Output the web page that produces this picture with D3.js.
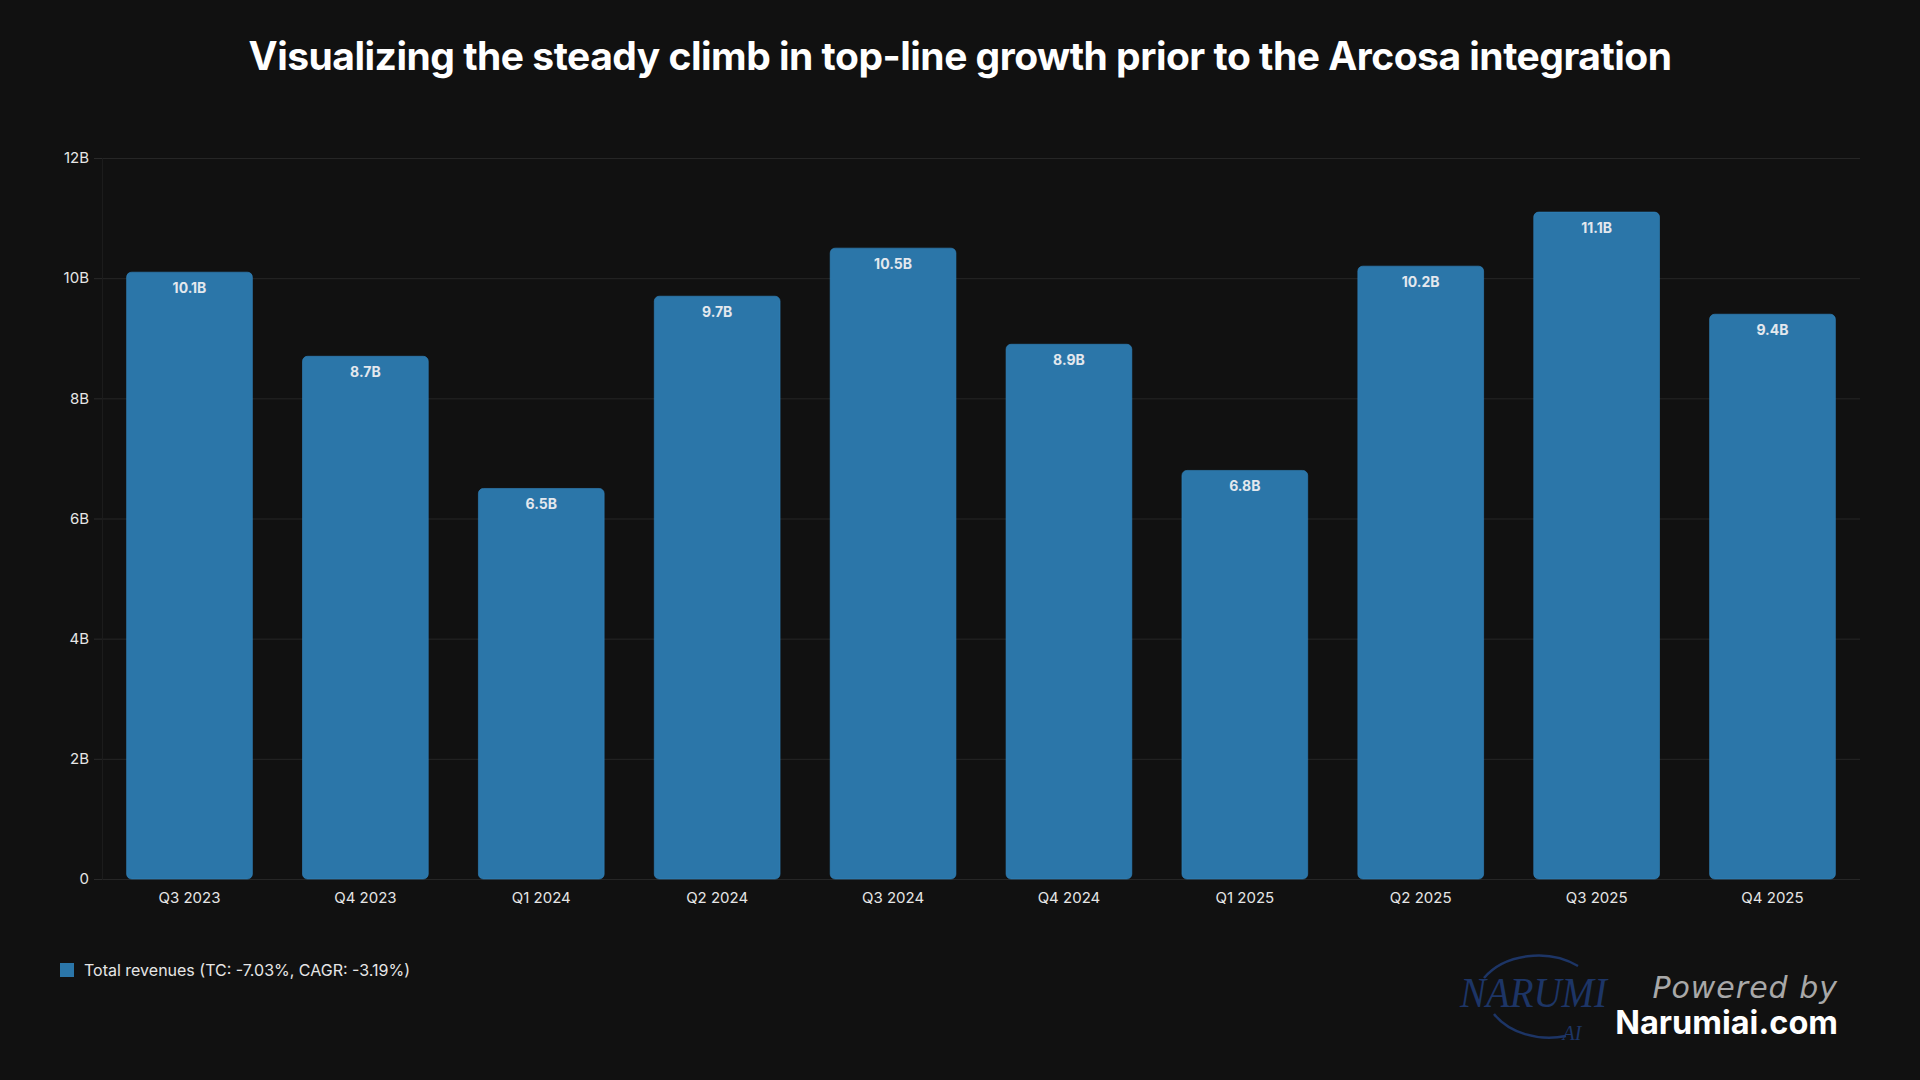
<!DOCTYPE html>
<html>
<head>
<meta charset="utf-8">
<script src="https://cdn.jsdelivr.net/npm/d3@7"></script>
<style>
  html, body { margin: 0; padding: 0; background: #111111; }
  svg { display: block; font-family: Inter, "Noto Sans", sans-serif; }
</style>
</head>
<body>
<svg id="chart" width="1920" height="1080"></svg>
<script>
// chart data
var quarters = ["Q3 2023", "Q4 2023", "Q1 2024", "Q2 2024", "Q3 2024", "Q4 2024", "Q1 2025", "Q2 2025", "Q3 2025", "Q4 2025"];
var revenues = [10.1, 8.7, 6.5, 9.7, 10.5, 8.9, 6.8, 10.2, 11.1, 9.4];
var yTicks = [0, 2, 4, 6, 8, 10, 12];
var titleText = "Visualizing the steady climb in top-line growth prior to the Arcosa integration";
var legendText = "Total revenues (TC: -7.03%, CAGR: -3.19%)";

(function() {
  var svg = d3.select("#chart");
  var margin = {top: 158, right: 60, bottom: 201, left: 102};
  var width = 1920, height = 1080;
  var barColor = "#2b76a9";

  var x = d3.scaleBand()
    .domain(quarters)
    .range([margin.left, width - margin.right])
    .paddingInner(0.285)
    .paddingOuter(0.14);

  var y = d3.scaleLinear()
    .domain([0, 12])
    .range([height - margin.bottom, margin.top]);

  // title
  svg.append("text")
    .attr("x", width / 2)
    .attr("y", 70)
    .attr("text-anchor", "middle")
    .attr("fill", "#ffffff")
    .style("font-size", "39px")
    .style("font-weight", 700)
    .style("letter-spacing", "-0.5px")
    .text(titleText);

  // grid lines
  svg.append("g")
    .selectAll("line")
    .data(yTicks)
    .enter().append("line")
      .attr("x1", margin.left)
      .attr("x2", width - margin.right)
      .attr("y1", function(d) { return y(d) + 0.5; })
      .attr("y2", function(d) { return y(d) + 0.5; })
      .attr("stroke", "#262626")
      .attr("stroke-width", 1);

  // y axis
  var yAxis = svg.append("g")
    .attr("transform", "translate(" + margin.left + ",0)")
    .call(d3.axisLeft(y)
      .tickValues(yTicks)
      .tickSize(8)
      .tickPadding(5)
      .tickFormat(function(d) { return d === 0 ? "0" : d + "B"; }));
  yAxis.select(".domain").attr("stroke", "#1c1c1c");
  yAxis.selectAll(".tick line").attr("stroke", "#2a2a2a");
  yAxis.selectAll(".tick text")
    .attr("fill", "#e6e6e6")
    .style("font-size", "15px")
    .style("font-family", "Inter, sans-serif");

  // x axis labels
  var xAxis = svg.append("g")
    .attr("transform", "translate(0," + (height - margin.bottom) + ")")
    .call(d3.axisBottom(x).tickSize(0).tickPadding(13));
  xAxis.select(".domain").remove();
  xAxis.selectAll(".tick text")
    .attr("fill", "#e6e6e6")
    .style("font-size", "15px")
    .style("font-family", "Inter, sans-serif");

  // bars
  var data = quarters.map(function(q, i) { return {q: q, v: revenues[i]}; });

  svg.append("g")
    .selectAll("rect")
    .data(data)
    .enter().append("rect")
      .attr("x", function(d) { return x(d.q); })
      .attr("y", function(d) { return y(d.v); })
      .attr("width", x.bandwidth())
      .attr("height", function(d) { return y(0) - y(d.v); })
      .attr("rx", 5)
      .attr("fill", barColor)
      .attr("stroke", "#3286c0")
      .attr("stroke-opacity", 0.6)
      .attr("stroke-width", 1);

  svg.append("g")
    .selectAll("text")
    .data(data)
    .enter().append("text")
      .attr("x", function(d) { return x(d.q) + x.bandwidth() / 2; })
      .attr("y", function(d) { return y(d.v) + 21; })
      .attr("text-anchor", "middle")
      .attr("fill", "#e3e8ee")
      .style("font-size", "14px")
      .style("font-weight", 700)
      .text(function(d) { return d.v.toFixed(1) + "B"; });

  // legend
  var legend = svg.append("g").attr("transform", "translate(60,963)");
  legend.append("rect")
    .attr("width", 14)
    .attr("height", 14)
    .attr("fill", barColor);
  legend.append("text")
    .attr("x", 24)
    .attr("y", 12.5)
    .attr("fill", "#e6e6e6")
    .style("font-size", "16px")
    .text(legendText);

  // branding
  var brand = svg.append("g");
  brand.append("path")
    .attr("d", "M1484,978 A64,48 0 0 1 1578,966 M1566,1036 A64,48 0 0 1 1494,1014")
    .attr("fill", "none")
    .attr("stroke", "#1d3566")
    .attr("stroke-width", 2.5);
  brand.append("text")
    .attr("x", 1460)
    .attr("y", 1007)
    .attr("textLength", 147)
    .attr("lengthAdjust", "spacingAndGlyphs")
    .attr("fill", "#1d3566")
    .style("font-family", "'Liberation Serif', serif")
    .style("font-style", "italic")
    .style("font-size", "42px")
    .text("NARUMI");
  brand.append("text")
    .attr("x", 1572)
    .attr("y", 1040)
    .attr("text-anchor", "middle")
    .attr("fill", "#1d3566")
    .style("font-family", "'Liberation Serif', serif")
    .style("font-style", "italic")
    .style("font-size", "20px")
    .text("AI");
  brand.append("text")
    .attr("x", 1838)
    .attr("y", 998)
    .attr("text-anchor", "end")
    .attr("fill", "#a8a8a8")
    .style("font-family", "cursive, 'DejaVu Sans'")
    .style("font-style", "italic")
    .style("font-weight", 300)
    .style("font-size", "30px")
    .style("letter-spacing", "1px")
    .text("Powered by");
  brand.append("text")
    .attr("x", 1838)
    .attr("y", 1034)
    .attr("text-anchor", "end")
    .attr("fill", "#ffffff")
    .style("font-size", "32.5px")
    .style("font-weight", 700)
    .text("Narumiai.com");
})();
</script>
</body>
</html>
